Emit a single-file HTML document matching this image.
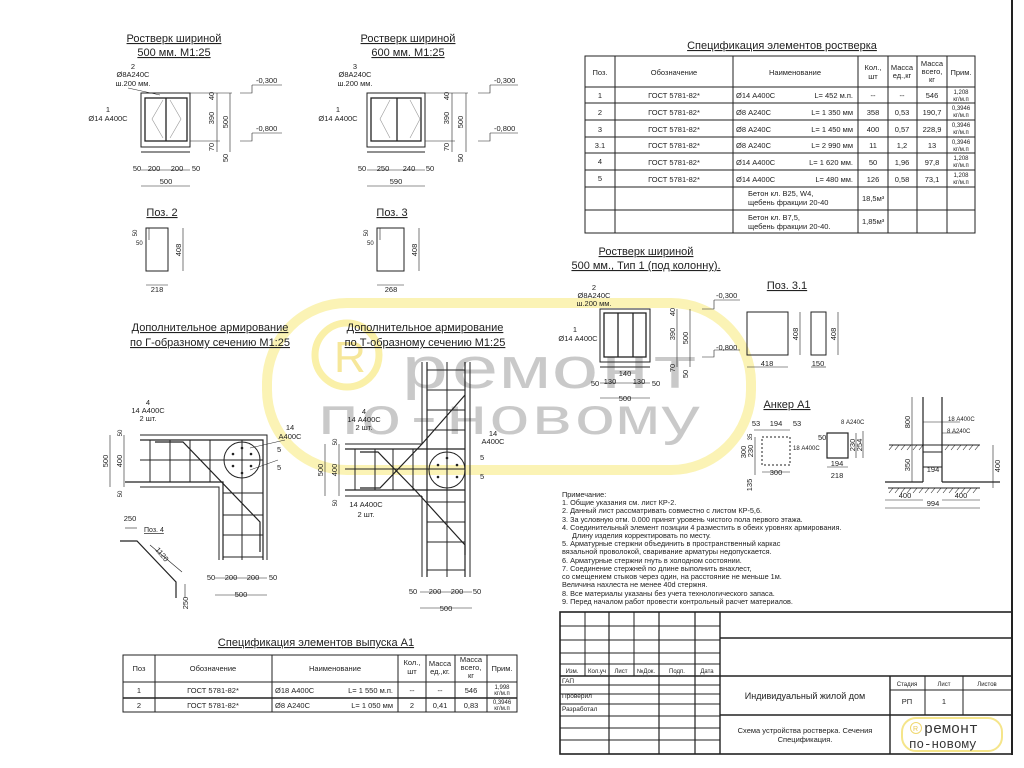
<!DOCTYPE html>
<html><head><meta charset="utf-8"><style>
html,body{margin:0;padding:0;background:#fff;}
svg{display:block;}
text{font-family:"Liberation Sans","DejaVu Sans",sans-serif;fill:#222;font-size:7.5px;}
.t{font-size:11px;text-decoration:underline;}
.s{font-size:6px;}
.n{font-size:7.3px;}
</style></head><body>
<svg width="1024" height="768" viewBox="0 0 1024 768" xmlns="http://www.w3.org/2000/svg">
<!-- watermark -->
<g>
<rect x="267" y="303" width="484" height="167" rx="80" fill="none" stroke="#fbf3b5" stroke-width="10"/>
<circle cx="347" cy="355" r="32" fill="none" stroke="#faf0a8" stroke-width="7"/>
<text x="334" y="372" style="font-size:44px;fill:#f6e79a">R</text>
<text x="400" y="388" textLength="300" lengthAdjust="spacingAndGlyphs" style="font-family:'Liberation Mono',monospace;font-size:58px;fill:#c9c9c9">ремонт</text>
<text x="317" y="434" textLength="385" lengthAdjust="spacingAndGlyphs" style="font-family:'Liberation Mono',monospace;font-size:52px;fill:#c9c9c9">по-новому</text>
</g>
<!-- frame right -->
<line x1="1012" y1="0" x2="1012" y2="755" stroke="#222" stroke-width="2"/>

<g stroke="#222" fill="none" stroke-width="1">
<!-- Section 500 -->
<rect x="141" y="93" width="49" height="54"/><line x1="141" y1="152" x2="190" y2="152"/>
<rect x="145" y="98" width="42" height="43" stroke-width="1.3"/><line x1="166" y1="98" x2="166" y2="141" stroke-width="1.3"/>
<polyline points="163,100 152,119 163,138" stroke="#999" stroke-width=".6"/><polyline points="170,100 181,119 170,138" stroke="#999" stroke-width=".6"/>
<line x1="217" y1="93" x2="217" y2="152" stroke-width=".6"/><line x1="230" y1="93" x2="230" y2="152" stroke-width=".6"/>
<line x1="190" y1="93" x2="232" y2="93" stroke-width=".5"/><line x1="190" y1="141" x2="220" y2="141" stroke-width=".5"/>
<line x1="141" y1="170" x2="190" y2="170" stroke-width=".6"/><line x1="141" y1="186" x2="190" y2="186" stroke-width=".6"/>
<polyline points="240,93 252,93 252,85" stroke-width=".6"/><line x1="252" y1="85" x2="282" y2="85" stroke-width=".6"/>
<polyline points="240,141 252,141 252,133" stroke-width=".6"/><line x1="252" y1="133" x2="282" y2="133" stroke-width=".6"/>
<line x1="128" y1="88" x2="160" y2="95" stroke-width=".5"/>
<!-- Section 600 -->
<rect x="367" y="93" width="58" height="54"/><line x1="367" y1="152" x2="425" y2="152"/>
<rect x="371" y="98" width="50" height="43" stroke-width="1.3"/><line x1="397" y1="98" x2="397" y2="141" stroke-width="1.3"/>
<polyline points="410,100 420,119 410,138" stroke="#999" stroke-width=".6"/><polyline points="390,100 380,119 390,138" stroke="#999" stroke-width=".6"/>
<line x1="452" y1="93" x2="452" y2="152" stroke-width=".6"/><line x1="466" y1="93" x2="466" y2="152" stroke-width=".6"/>
<line x1="425" y1="93" x2="468" y2="93" stroke-width=".5"/><line x1="425" y1="141" x2="455" y2="141" stroke-width=".5"/>
<line x1="367" y1="170" x2="425" y2="170" stroke-width=".6"/><line x1="367" y1="186" x2="425" y2="186" stroke-width=".6"/>
<polyline points="478,93 490,93 490,85" stroke-width=".6"/><line x1="490" y1="85" x2="518" y2="85" stroke-width=".6"/>
<polyline points="478,141 490,141 490,133" stroke-width=".6"/><line x1="490" y1="133" x2="518" y2="133" stroke-width=".6"/>
<!-- Поз 2 / 3 -->
<rect x="146" y="228" width="22" height="43"/><line x1="149" y1="228" x2="149" y2="240" stroke-width=".6"/>
<line x1="183" y1="228" x2="183" y2="271" stroke-width=".6"/><line x1="146" y1="285" x2="168" y2="285" stroke-width=".6"/>
<rect x="377" y="228" width="27" height="43"/><line x1="380" y1="228" x2="380" y2="240" stroke-width=".6"/>
<line x1="419" y1="228" x2="419" y2="271" stroke-width=".6"/><line x1="377" y1="285" x2="404" y2="285" stroke-width=".6"/>

<!-- L section -->
<polyline points="140,435 267,435 267,560"/><polyline points="140,487 219,487 219,560"/>
<polyline points="140,440 263,440 263,560" stroke-width="1.2"/><polyline points="125,482 223,482 223,560" stroke-width="1.2"/>
<line x1="140" y1="460" x2="263" y2="460"/><line x1="242" y1="440" x2="242" y2="560"/>
<line x1="150" y1="440" x2="150" y2="482"/><line x1="170" y1="440" x2="170" y2="482"/><line x1="190" y1="440" x2="190" y2="482"/><line x1="210" y1="440" x2="210" y2="482"/>
<line x1="223" y1="493" x2="263" y2="493"/><line x1="223" y1="515" x2="263" y2="515"/><line x1="223" y1="535" x2="263" y2="535"/><line x1="223" y1="557" x2="263" y2="557"/>
<polyline points="155,442 183,442 260,522 260,552" stroke-width="1.2"/>
<circle cx="242" cy="460" r="18"/>
<line x1="110" y1="435" x2="110" y2="487" stroke-width=".6"/><line x1="124" y1="435" x2="124" y2="487" stroke-width=".6"/>
<line x1="215" y1="578" x2="267" y2="578" stroke-width=".6"/><line x1="215" y1="595" x2="267" y2="595" stroke-width=".6"/>
<line x1="250" y1="448" x2="285" y2="440" stroke-width=".5"/><line x1="250" y1="470" x2="278" y2="460" stroke-width=".5"/>
<polyline points="120,541 137,541 176,582 176,598" stroke-width="1.2"/>
<line x1="125" y1="528" x2="137" y2="528" stroke-width=".6"/><line x1="150" y1="545" x2="182" y2="572" stroke-width=".6"/><line x1="185" y1="584" x2="185" y2="598" stroke-width=".6"/>

<!-- T section -->
<line x1="422" y1="362" x2="422" y2="444"/><line x1="422" y1="496" x2="422" y2="577"/><line x1="470" y1="362" x2="470" y2="577"/>
<line x1="427" y1="362" x2="427" y2="577" stroke-width="1.2"/><line x1="465" y1="362" x2="465" y2="577" stroke-width="1.2"/>
<line x1="447" y1="362" x2="447" y2="577"/>
<line x1="345" y1="444" x2="422" y2="444"/><line x1="345" y1="496" x2="422" y2="496"/>
<line x1="345" y1="449" x2="465" y2="449" stroke-width="1.2"/><line x1="345" y1="490" x2="465" y2="490" stroke-width="1.2"/>
<line x1="345" y1="469" x2="465" y2="469"/>
<line x1="355" y1="449" x2="355" y2="490"/><line x1="375" y1="449" x2="375" y2="490"/><line x1="393" y1="449" x2="393" y2="490"/><line x1="413" y1="449" x2="413" y2="490"/>
<line x1="427" y1="370" x2="465" y2="370"/><line x1="427" y1="390" x2="465" y2="390"/><line x1="427" y1="410" x2="465" y2="410"/><line x1="427" y1="430" x2="465" y2="430"/>
<line x1="427" y1="502" x2="465" y2="502"/><line x1="427" y1="522" x2="465" y2="522"/><line x1="427" y1="542" x2="465" y2="542"/><line x1="427" y1="570" x2="465" y2="570"/>
<polyline points="465,395 422,444 380,488 360,488" stroke-width="1.2"/>
<polyline points="360,452 378,452 415,490 465,545 465,555" stroke-width="1.2"/>
<circle cx="447" cy="470" r="18"/>
<line x1="325" y1="444" x2="325" y2="496" stroke-width=".6"/><line x1="339" y1="444" x2="339" y2="496" stroke-width=".6"/>
<line x1="420" y1="592" x2="472" y2="592" stroke-width=".6"/><line x1="420" y1="608" x2="472" y2="608" stroke-width=".6"/>

<!-- Type 1 section -->
<rect x="600" y="309" width="50" height="53"/><line x1="600" y1="367" x2="650" y2="367"/>
<rect x="604" y="313" width="42" height="44" stroke-width="1.3"/><line x1="618" y1="313" x2="618" y2="357" stroke-width="1.3"/><line x1="633" y1="313" x2="633" y2="357" stroke-width="1.3"/>
<line x1="677" y1="309" x2="677" y2="367" stroke-width=".6"/><line x1="690" y1="309" x2="690" y2="367" stroke-width=".6"/>
<line x1="600" y1="383" x2="650" y2="383" stroke-width=".6"/><line x1="600" y1="398" x2="650" y2="398" stroke-width=".6"/>
<polyline points="702,309 714,309 714,300" stroke-width=".6"/><line x1="714" y1="300" x2="740" y2="300" stroke-width=".6"/>
<polyline points="702,357 714,357 714,350" stroke-width=".6"/><line x1="714" y1="350" x2="740" y2="350" stroke-width=".6"/>
<!-- Поз 3.1 -->
<rect x="747" y="312" width="41" height="43"/><rect x="811" y="312" width="15" height="43"/>
<line x1="800" y1="312" x2="800" y2="355" stroke-width=".6"/><line x1="838" y1="312" x2="838" y2="355" stroke-width=".6"/>
<line x1="747" y1="367" x2="788" y2="367" stroke-width=".6"/><line x1="811" y1="367" x2="826" y2="367" stroke-width=".6"/>
<!-- Anchor -->
<rect x="762" y="437" width="28" height="28" stroke-dasharray="2,2"/>
<rect x="827" y="433" width="21" height="25" stroke-width="1.2"/>
<line x1="754" y1="430" x2="790" y2="430" stroke-width=".6"/><line x1="762" y1="472" x2="790" y2="472" stroke-width=".6"/>
<line x1="755" y1="437" x2="755" y2="475" stroke-width=".6"/><line x1="827" y1="467" x2="848" y2="467" stroke-width=".6"/><line x1="856" y1="433" x2="856" y2="458" stroke-width=".6"/><line x1="863" y1="431" x2="863" y2="458" stroke-width=".6"/>
<line x1="923" y1="397" x2="923" y2="482" stroke-width="1.2"/><line x1="942" y1="397" x2="942" y2="482" stroke-width="1.2"/>
<line x1="889" y1="445" x2="980" y2="445"/><line x1="923" y1="452" x2="942" y2="452"/><line x1="923" y1="467" x2="942" y2="467"/>
<line x1="885" y1="482" x2="923" y2="482" stroke-width="1.2"/><line x1="942" y1="482" x2="1000" y2="482" stroke-width="1.2"/>
<line x1="888" y1="488" x2="980" y2="488"/>
<line x1="912" y1="397" x2="912" y2="482" stroke-width=".6"/><line x1="993" y1="445" x2="993" y2="488" stroke-width=".6"/>
<line x1="885" y1="500" x2="923" y2="500" stroke-width=".6"/><line x1="942" y1="500" x2="980" y2="500" stroke-width=".6"/><line x1="885" y1="508" x2="980" y2="508" stroke-width=".6"/>
<line x1="923" y1="422" x2="960" y2="422" stroke-width=".5"/><line x1="942" y1="433" x2="960" y2="433" stroke-width=".5"/>

<!-- Spec table top -->
<rect x="585" y="56" width="390" height="177"/>
<line x1="615" y1="56" x2="615" y2="233"/><line x1="733" y1="56" x2="733" y2="233"/><line x1="858" y1="56" x2="858" y2="233"/><line x1="888" y1="56" x2="888" y2="233"/><line x1="917" y1="56" x2="917" y2="233"/><line x1="947" y1="56" x2="947" y2="233"/>
<line x1="585" y1="87" x2="975" y2="87"/><line x1="585" y1="103" x2="975" y2="103"/><line x1="585" y1="120" x2="975" y2="120"/><line x1="585" y1="137" x2="975" y2="137"/><line x1="585" y1="153" x2="975" y2="153"/><line x1="585" y1="170" x2="975" y2="170"/><line x1="585" y1="187" x2="975" y2="187"/><line x1="585" y1="210" x2="975" y2="210"/>
<!-- Spec table bottom -->
<rect x="123" y="655" width="394" height="57"/>
<line x1="155" y1="655" x2="155" y2="712"/><line x1="272" y1="655" x2="272" y2="712"/><line x1="398" y1="655" x2="398" y2="712"/><line x1="426" y1="655" x2="426" y2="712"/><line x1="455" y1="655" x2="455" y2="712"/><line x1="487" y1="655" x2="487" y2="712"/>
<line x1="123" y1="682" x2="517" y2="682"/><line x1="123" y1="698" x2="517" y2="698" stroke-width="1.5"/>

<!-- Title block -->
<rect x="560" y="612" width="452" height="142" stroke-width="1.6"/>
<line x1="720" y1="612" x2="720" y2="754" stroke-width="1.4"/>
<line x1="585" y1="612" x2="585" y2="676"/><line x1="609" y1="612" x2="609" y2="754" stroke-width="1.2"/><line x1="634" y1="612" x2="634" y2="676"/><line x1="659" y1="612" x2="659" y2="754" stroke-width="1.2"/><line x1="695" y1="612" x2="695" y2="754" stroke-width="1.2"/>
<line x1="560" y1="626" x2="720" y2="626"/><line x1="560" y1="640" x2="720" y2="640"/><line x1="560" y1="653" x2="720" y2="653"/><line x1="560" y1="664" x2="720" y2="664"/>
<line x1="560" y1="676" x2="1012" y2="676" stroke-width="1.4"/>
<line x1="560" y1="685" x2="720" y2="685"/><line x1="560" y1="694" x2="720" y2="694"/><line x1="560" y1="704" x2="720" y2="704"/><line x1="560" y1="716" x2="720" y2="716"/><line x1="560" y1="728" x2="720" y2="728"/><line x1="560" y1="740" x2="720" y2="740"/>
<line x1="720" y1="638" x2="1012" y2="638" stroke-width="1.4"/><line x1="720" y1="715" x2="1012" y2="715" stroke-width="1.4"/>
<line x1="890" y1="676" x2="890" y2="754" stroke-width="1.4"/><line x1="925" y1="676" x2="925" y2="715"/><line x1="963" y1="676" x2="963" y2="715"/>
<line x1="890" y1="690" x2="1012" y2="690"/>
<rect x="902" y="718" width="100" height="33" rx="14" stroke="#f5e58a" stroke-width="2"/>
</g>
<!-- dots in circles -->
<g fill="#222">
<circle cx="233" cy="454" r="1.3"/><circle cx="251" cy="454" r="1.3"/><circle cx="233" cy="466" r="1.3"/><circle cx="251" cy="466" r="1.3"/><circle cx="242" cy="448" r="1.3"/><circle cx="242" cy="473" r="1.3"/>
<circle cx="438" cy="465" r="1.3"/><circle cx="457" cy="465" r="1.3"/><circle cx="438" cy="477" r="1.3"/><circle cx="457" cy="477" r="1.3"/><circle cx="447" cy="458" r="1.3"/>
</g>
<g stroke="#222" stroke-width=".6">
<path d="M889 450l4-5M895 450l4-5M901 450l4-5M907 450l4-5M913 450l4-5M919 450l4-5M945 450l4-5M951 450l4-5M957 450l4-5M963 450l4-5M969 450l4-5M975 450l4-5"/>
<path d="M889 493l4-5M895 493l4-5M901 493l4-5M907 493l4-5M913 493l4-5M919 493l4-5M925 493l4-5M931 493l4-5M937 493l4-5M943 493l4-5M949 493l4-5M955 493l4-5M961 493l4-5M967 493l4-5M973 493l4-5"/>
</g>

<!-- Titles -->
<text class="t" x="174" y="42" text-anchor="middle">Ростверк шириной</text>
<text class="t" x="174" y="56" text-anchor="middle">500 мм. М1:25</text>
<text class="t" x="408" y="42" text-anchor="middle">Ростверк шириной</text>
<text class="t" x="408" y="56" text-anchor="middle">600 мм. М1:25</text>
<text class="t" x="162" y="216" text-anchor="middle">Поз. 2</text>
<text class="t" x="392" y="216" text-anchor="middle">Поз. 3</text>
<text class="t" x="210" y="331" text-anchor="middle">Дополнительное армирование</text>
<text class="t" x="210" y="346" text-anchor="middle">по Г-образному сечению М1:25</text>
<text class="t" x="425" y="331" text-anchor="middle">Дополнительное армирование</text>
<text class="t" x="425" y="346" text-anchor="middle">по Т-образному сечению М1:25</text>
<text class="t" x="782" y="49" text-anchor="middle">Спецификация элементов ростверка</text>
<text class="t" x="646" y="255" text-anchor="middle">Ростверк шириной</text>
<text class="t" x="646" y="269" text-anchor="middle">500 мм., Тип 1 (под колонну).</text>
<text class="t" x="787" y="289" text-anchor="middle">Поз. 3.1</text>
<text class="t" x="787" y="408" text-anchor="middle">Анкер А1</text>
<text class="t" x="316" y="646" text-anchor="middle">Спецификация элементов выпуска А1</text>
<text x="144" y="532" style="font-size:7px;text-decoration:underline">Поз. 4</text>

<!-- small labels sec 500 -->
<text x="133" y="69" text-anchor="middle">2</text><text x="133" y="77" text-anchor="middle">Ø8А240С</text><text x="133" y="86" text-anchor="middle">ш.200 мм.</text>
<text x="108" y="112" text-anchor="middle">1</text><text x="108" y="121" text-anchor="middle">Ø14 А400С</text>
<text x="256" y="83">-0,300</text><text x="256" y="131">-0,800</text>
<text transform="translate(214,96) rotate(-90)" text-anchor="middle">40</text>
<text transform="translate(214,118) rotate(-90)" text-anchor="middle">390</text>
<text transform="translate(228,122) rotate(-90)" text-anchor="middle">500</text>
<text transform="translate(214,147) rotate(-90)" text-anchor="middle">70</text>
<text transform="translate(228,158) rotate(-90)" text-anchor="middle">50</text>
<text x="137" y="171" text-anchor="middle">50</text><text x="154" y="171" text-anchor="middle">200</text><text x="177" y="171" text-anchor="middle">200</text><text x="196" y="171" text-anchor="middle">50</text>
<text x="166" y="184" text-anchor="middle">500</text>
<!-- sec 600 -->
<text x="355" y="69" text-anchor="middle">3</text><text x="355" y="77" text-anchor="middle">Ø8А240С</text><text x="355" y="86" text-anchor="middle">ш.200 мм.</text>
<text x="338" y="112" text-anchor="middle">1</text><text x="338" y="121" text-anchor="middle">Ø14 А400С</text>
<text x="494" y="83">-0,300</text><text x="494" y="131">-0,800</text>
<text transform="translate(449,96) rotate(-90)" text-anchor="middle">40</text>
<text transform="translate(449,118) rotate(-90)" text-anchor="middle">390</text>
<text transform="translate(463,122) rotate(-90)" text-anchor="middle">500</text>
<text transform="translate(449,147) rotate(-90)" text-anchor="middle">70</text>
<text transform="translate(463,158) rotate(-90)" text-anchor="middle">50</text>
<text x="362" y="171" text-anchor="middle">50</text><text x="383" y="171" text-anchor="middle">250</text><text x="409" y="171" text-anchor="middle">240</text><text x="430" y="171" text-anchor="middle">50</text>
<text x="396" y="184" text-anchor="middle">590</text>
<!-- poz2/3 dims -->
<text transform="translate(137,233) rotate(-90)" text-anchor="middle" class="s">50</text><text x="136" y="245" class="s">50</text>
<text transform="translate(181,250) rotate(-90)" text-anchor="middle">408</text><text x="157" y="292" text-anchor="middle">218</text>
<text transform="translate(368,233) rotate(-90)" text-anchor="middle" class="s">50</text><text x="367" y="245" class="s">50</text>
<text transform="translate(417,250) rotate(-90)" text-anchor="middle">408</text><text x="391" y="292" text-anchor="middle">268</text>
<!-- L labels -->
<text x="148" y="405" text-anchor="middle">4</text><text x="148" y="413" text-anchor="middle">14 А400С</text><text x="148" y="421" text-anchor="middle">2 шт.</text>
<text x="290" y="430" text-anchor="middle">14</text><text x="290" y="439" text-anchor="middle">А400С</text>
<text x="277" y="452">5</text><text x="277" y="470">5</text>
<text transform="translate(108,461) rotate(-90)" text-anchor="middle">500</text>
<text transform="translate(122,461) rotate(-90)" text-anchor="middle">400</text>
<text transform="translate(122,433) rotate(-90)" text-anchor="middle" class="s">50</text>
<text transform="translate(122,494) rotate(-90)" text-anchor="middle" class="s">50</text>
<text x="211" y="580" text-anchor="middle">50</text><text x="231" y="580" text-anchor="middle">200</text><text x="253" y="580" text-anchor="middle">200</text><text x="273" y="580" text-anchor="middle">50</text>
<text x="241" y="597" text-anchor="middle">500</text>
<text x="130" y="521" text-anchor="middle">250</text>
<text transform="translate(160,556) rotate(50)" text-anchor="middle">1120</text>
<text transform="translate(188,603) rotate(-90)" text-anchor="middle">250</text>
<!-- T labels -->
<text x="364" y="414" text-anchor="middle">4</text><text x="364" y="422" text-anchor="middle">14 А400С</text><text x="364" y="430" text-anchor="middle">2 шт.</text>
<text x="366" y="507" text-anchor="middle">14 А400С</text><text x="366" y="517" text-anchor="middle">2 шт.</text>
<text x="493" y="436" text-anchor="middle">14</text><text x="493" y="444" text-anchor="middle">А400С</text>
<text x="480" y="460">5</text><text x="480" y="479">5</text>
<text transform="translate(323,470) rotate(-90)" text-anchor="middle">500</text>
<text transform="translate(337,470) rotate(-90)" text-anchor="middle">400</text>
<text transform="translate(337,442) rotate(-90)" text-anchor="middle" class="s">50</text>
<text transform="translate(337,503) rotate(-90)" text-anchor="middle" class="s">50</text>
<text x="413" y="594" text-anchor="middle">50</text><text x="435" y="594" text-anchor="middle">200</text><text x="457" y="594" text-anchor="middle">200</text><text x="477" y="594" text-anchor="middle">50</text>
<text x="446" y="611" text-anchor="middle">500</text>
<!-- Type1 labels -->
<text x="594" y="290" text-anchor="middle">2</text><text x="594" y="298" text-anchor="middle">Ø8А240С</text><text x="594" y="306" text-anchor="middle">ш.200 мм.</text>
<text x="575" y="332" text-anchor="middle">1</text><text x="578" y="341" text-anchor="middle">Ø14 А400С</text>
<text x="716" y="298">-0,300</text><text x="716" y="350">-0,800</text>
<text transform="translate(675,312) rotate(-90)" text-anchor="middle">40</text>
<text transform="translate(675,334) rotate(-90)" text-anchor="middle">390</text>
<text transform="translate(688,338) rotate(-90)" text-anchor="middle">500</text>
<text transform="translate(675,368) rotate(-90)" text-anchor="middle">70</text>
<text transform="translate(688,374) rotate(-90)" text-anchor="middle">50</text>
<text x="625" y="376" text-anchor="middle">140</text>
<text x="595" y="386" text-anchor="middle">50</text><text x="610" y="384" text-anchor="middle">130</text><text x="639" y="384" text-anchor="middle">130</text><text x="656" y="386" text-anchor="middle">50</text>
<text x="625" y="401" text-anchor="middle">500</text>
<text transform="translate(798,334) rotate(-90)" text-anchor="middle">408</text>
<text transform="translate(836,334) rotate(-90)" text-anchor="middle">408</text>
<text x="767" y="366" text-anchor="middle">418</text><text x="818" y="366" text-anchor="middle">150</text>
<!-- Anchor labels -->
<text x="756" y="426" text-anchor="middle">53</text><text x="776" y="426" text-anchor="middle">194</text><text x="797" y="426" text-anchor="middle">53</text>
<text x="793" y="450" class="s">18 А400С</text>
<text transform="translate(752,437) rotate(-90)" text-anchor="middle" class="s">35</text>
<text transform="translate(746,452) rotate(-90)" text-anchor="middle">300</text>
<text transform="translate(753,451) rotate(-90)" text-anchor="middle">230</text>
<text x="776" y="475" text-anchor="middle">300</text>
<text transform="translate(752,485) rotate(-90)" text-anchor="middle">135</text>
<text x="841" y="424" class="s">8 А240С</text><text x="818" y="440">50</text>
<text transform="translate(855,445) rotate(-90)" text-anchor="middle">230</text>
<text transform="translate(862,445) rotate(-90)" text-anchor="middle">254</text>
<text x="837" y="466" text-anchor="middle">194</text><text x="837" y="478" text-anchor="middle">218</text>
<text transform="translate(910,422) rotate(-90)" text-anchor="middle">800</text>
<text x="948" y="421" class="s">18 А400С</text><text x="947" y="433" class="s">8 А240С</text>
<text transform="translate(910,465) rotate(-90)" text-anchor="middle">350</text>
<text x="933" y="472" text-anchor="middle">194</text>
<text transform="translate(1000,466) rotate(-90)" text-anchor="middle">400</text>
<text x="905" y="498" text-anchor="middle">400</text><text x="961" y="498" text-anchor="middle">400</text><text x="933" y="506" text-anchor="middle">994</text>

<!-- Notes -->
<g class="n">
<text x="562" y="497" class="n">Примечание:</text>
<text x="562" y="505" class="n">1. Общие указания см. лист КР-2.</text>
<text x="562" y="513" class="n">2. Данный лист рассматривать совместно с листом КР-5,6.</text>
<text x="562" y="522" class="n">3. За условную отм. 0.000 принят уровень чистого пола первого этажа.</text>
<text x="562" y="530" class="n">4. Соединительный элемент позиции 4 разместить в обеих уровнях армирования.</text>
<text x="572" y="538" class="n">Длину изделия корректировать по месту.</text>
<text x="562" y="546" class="n">5. Арматурные стержни объединить в пространственный каркас</text>
<text x="562" y="554" class="n">вязальной проволокой, сваривание арматуры недопускается.</text>
<text x="562" y="563" class="n">6. Арматурные стержни гнуть в холодном состоянии.</text>
<text x="562" y="571" class="n">7. Соединение стержней по длине выполнить внахлест,</text>
<text x="562" y="579" class="n">со смещением стыков через один, на расстояние не меньше 1м.</text>
<text x="562" y="587" class="n">Величина нахлеста не менее 40d стержня.</text>
<text x="562" y="596" class="n">8. Все материалы указаны без учета технологического запаса.</text>
<text x="562" y="604" class="n">9. Перед началом работ провести контрольный расчет материалов.</text>
</g>

<!-- top spec table text -->
<text x="600" y="75" text-anchor="middle">Поз.</text><text x="674" y="75" text-anchor="middle">Обозначение</text><text x="795" y="75" text-anchor="middle">Наименование</text>
<text x="873" y="70" text-anchor="middle">Кол.,</text><text x="873" y="79" text-anchor="middle">шт</text>
<text x="902" y="70" text-anchor="middle">Масса</text><text x="902" y="78" text-anchor="middle">ед.,кг</text>
<text x="932" y="66" text-anchor="middle">Масса</text><text x="932" y="74" text-anchor="middle">всего,</text><text x="932" y="82" text-anchor="middle">кг</text>
<text x="961" y="75" text-anchor="middle">Прим.</text>
<g>
<text x="600" y="98" text-anchor="middle">1</text><text x="674" y="98" text-anchor="middle">ГОСТ 5781-82*</text><text x="736" y="98">Ø14 А400С</text><text x="853" y="98" text-anchor="end">L= 452 м.п.</text><text x="873" y="98" text-anchor="middle">--</text><text x="902" y="98" text-anchor="middle">--</text><text x="932" y="98" text-anchor="middle">546</text>
<text x="600" y="115" text-anchor="middle">2</text><text x="674" y="115" text-anchor="middle">ГОСТ 5781-82*</text><text x="736" y="115">Ø8 А240С</text><text x="853" y="115" text-anchor="end">L= 1 350 мм</text><text x="873" y="115" text-anchor="middle">358</text><text x="902" y="115" text-anchor="middle">0,53</text><text x="932" y="115" text-anchor="middle">190,7</text>
<text x="600" y="132" text-anchor="middle">3</text><text x="674" y="132" text-anchor="middle">ГОСТ 5781-82*</text><text x="736" y="132">Ø8 А240С</text><text x="853" y="132" text-anchor="end">L= 1 450 мм</text><text x="873" y="132" text-anchor="middle">400</text><text x="902" y="132" text-anchor="middle">0,57</text><text x="932" y="132" text-anchor="middle">228,9</text>
<text x="600" y="148" text-anchor="middle">3.1</text><text x="674" y="148" text-anchor="middle">ГОСТ 5781-82*</text><text x="736" y="148">Ø8 А240С</text><text x="853" y="148" text-anchor="end">L= 2 990 мм</text><text x="873" y="148" text-anchor="middle">11</text><text x="902" y="148" text-anchor="middle">1,2</text><text x="932" y="148" text-anchor="middle">13</text>
<text x="600" y="164" text-anchor="middle">4</text><text x="674" y="165" text-anchor="middle">ГОСТ 5781-82*</text><text x="736" y="165">Ø14 А400С</text><text x="853" y="165" text-anchor="end">L= 1 620 мм.</text><text x="873" y="165" text-anchor="middle">50</text><text x="902" y="165" text-anchor="middle">1,96</text><text x="932" y="165" text-anchor="middle">97,8</text>
<text x="600" y="181" text-anchor="middle">5</text><text x="674" y="182" text-anchor="middle">ГОСТ 5781-82*</text><text x="736" y="182">Ø14 А400С</text><text x="853" y="182" text-anchor="end">L= 480 мм.</text><text x="873" y="182" text-anchor="middle">126</text><text x="902" y="182" text-anchor="middle">0,58</text><text x="932" y="182" text-anchor="middle">73,1</text>
</g>
<g class="s">
<text x="961" y="94" text-anchor="middle" class="s">1,208</text><text x="961" y="101" text-anchor="middle" class="s">кг/м.п</text>
<text x="961" y="110" text-anchor="middle" class="s">0,3946</text><text x="961" y="117" text-anchor="middle" class="s">кг/м.п</text>
<text x="961" y="127" text-anchor="middle" class="s">0,3946</text><text x="961" y="134" text-anchor="middle" class="s">кг/м.п</text>
<text x="961" y="144" text-anchor="middle" class="s">0,3946</text><text x="961" y="151" text-anchor="middle" class="s">кг/м.п</text>
<text x="961" y="160" text-anchor="middle" class="s">1,208</text><text x="961" y="167" text-anchor="middle" class="s">кг/м.п</text>
<text x="961" y="177" text-anchor="middle" class="s">1,208</text><text x="961" y="184" text-anchor="middle" class="s">кг/м.п</text>
</g>
<text x="748" y="196">Бетон кл. В25, W4,</text><text x="748" y="205">щебень фракции 20-40</text><text x="862" y="201">18,5м³</text>
<text x="748" y="220">Бетон кл. В7,5,</text><text x="748" y="229">щебень фракции 20-40.</text><text x="862" y="224">1,85м³</text>

<!-- bottom spec text -->
<text x="139" y="671" text-anchor="middle">Поз</text><text x="213" y="671" text-anchor="middle">Обозначение</text><text x="335" y="671" text-anchor="middle">Наименование</text>
<text x="412" y="665" text-anchor="middle">Кол.,</text><text x="412" y="674" text-anchor="middle">шт</text>
<text x="440" y="666" text-anchor="middle">Масса</text><text x="440" y="674" text-anchor="middle">ед.,кг.</text>
<text x="471" y="662" text-anchor="middle">Масса</text><text x="471" y="670" text-anchor="middle">всего,</text><text x="471" y="678" text-anchor="middle">кг</text>
<text x="502" y="671" text-anchor="middle">Прим.</text>
<text x="139" y="693" text-anchor="middle">1</text><text x="213" y="693" text-anchor="middle">ГОСТ 5781-82*</text><text x="275" y="693">Ø18 А400С</text><text x="393" y="693" text-anchor="end">L= 1 550 м.п.</text><text x="412" y="693" text-anchor="middle">--</text><text x="440" y="693" text-anchor="middle">--</text><text x="471" y="693" text-anchor="middle">546</text>
<text x="139" y="708" text-anchor="middle">2</text><text x="213" y="708" text-anchor="middle">ГОСТ 5781-82*</text><text x="275" y="708">Ø8 А240С</text><text x="393" y="708" text-anchor="end">L= 1 050 мм</text><text x="412" y="708" text-anchor="middle">2</text><text x="440" y="708" text-anchor="middle">0,41</text><text x="471" y="708" text-anchor="middle">0,83</text>
<text x="502" y="689" text-anchor="middle" class="s">1,998</text><text x="502" y="695" text-anchor="middle" class="s">кг/м.п</text>
<text x="502" y="704" text-anchor="middle" class="s">0,3946</text><text x="502" y="710" text-anchor="middle" class="s">кг/м.п</text>

<!-- title block text -->
<g class="s">
<text x="572" y="673" text-anchor="middle" class="s">Изм.</text><text x="597" y="673" text-anchor="middle" class="s">Кол.уч</text><text x="621" y="673" text-anchor="middle" class="s">Лист</text><text x="646" y="673" text-anchor="middle" class="s">№Док.</text><text x="677" y="673" text-anchor="middle" class="s">Подп.</text><text x="707" y="673" text-anchor="middle" class="s">Дата</text>
<text x="562" y="683" style="font-size:6.5px">ГАП</text><text x="562" y="698" style="font-size:6.5px">Проверил</text><text x="562" y="711" style="font-size:6.5px">Разработал</text>
</g>
<text x="805" y="699" text-anchor="middle" style="font-size:9px">Индивидуальный жилой дом</text>
<text x="907" y="686" text-anchor="middle" class="s">Стадия</text><text x="944" y="686" text-anchor="middle" class="s">Лист</text><text x="987" y="686" text-anchor="middle" class="s">Листов</text>
<text x="907" y="704" text-anchor="middle">РП</text><text x="944" y="704" text-anchor="middle">1</text>
<text x="805" y="733" text-anchor="middle">Схема устройства ростверка. Сечения</text>
<text x="805" y="742" text-anchor="middle">Спецификация.</text>
<circle cx="916" cy="728" r="5.5" fill="none" stroke="#f0d870" stroke-width="1"/>
<text x="913" y="731" style="font-size:7px;fill:#e8c850">R</text>
<text x="924" y="733" style="font-family:'Liberation Mono',monospace;font-size:15px;fill:#333">ремонт</text>
<text x="909" y="748" style="font-family:'Liberation Mono',monospace;font-size:12.5px;fill:#333">по-новому</text>
</svg>
</body></html>
